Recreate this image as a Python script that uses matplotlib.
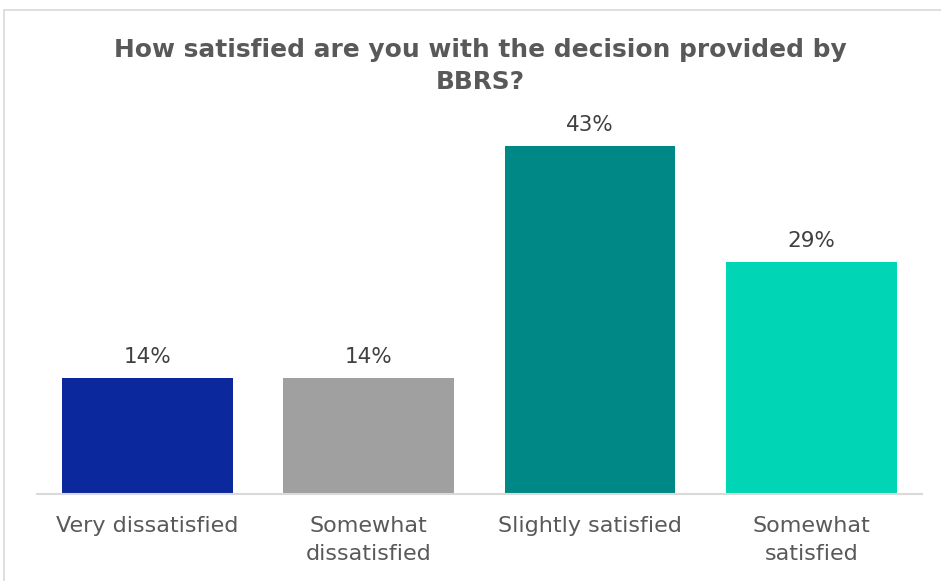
import matplotlib
matplotlib.use("Agg")
import matplotlib.pyplot as plt
from matplotlib.patches import Rectangle

categories = ["Very dissatisfied", "Somewhat\ndissatisfied", "Slightly satisfied", "Somewhat\nsatisfied"]
values = [14.29, 14.29, 42.86, 28.57]
value_labels = ["14%", "14%", "43%", "29%"]
colors = ["#0b289c", "#a0a0a0", "#008887", "#00d6b5"]
title = "How satisfied are you with the decision provided by\nBBRS?"

W, H = 941, 581
fig = plt.figure(figsize=(W / 100, H / 100), dpi=100)
fig.patch.set_facecolor("white")

# outer border
fig.patches.append(Rectangle((4 / W, -0.05), 1.2, (H - 10) / H + 0.05,
                             transform=fig.transFigure, fill=False,
                             edgecolor="#d9d9d9", linewidth=1.2, clip_on=False))

left = 36.8 / W
right = 922 / W
bottom = (H - 494) / H
top_px = 88
ax = fig.add_axes([left, bottom, right - left, (494 - top_px) / H])

x = list(range(len(categories)))
bars = ax.bar(x, values, width=0.772, color=colors)
ax.set_xlim(-0.5, len(categories) - 0.5)
ax.set_ylim(0, 50)

for xi, v, lab in zip(x, values, value_labels):
    ax.text(xi, v + 1.35, lab, ha="center", va="bottom", fontsize=15.5,
            color="#404040", family="DejaVu Sans")

ax.set_xticks(x)
ax.set_xticklabels(categories, fontsize=16, color="#595959", linespacing=1.5)
ax.tick_params(axis="x", length=0, pad=16)
ax.set_yticks([])
for s in ["top", "right", "left"]:
    ax.spines[s].set_visible(False)
ax.spines["bottom"].set_color("#d9d9d9")
ax.spines["bottom"].set_linewidth(1.5)

fig.text(480 / W, 1 - 66 / H, title, ha="center", va="center", fontsize=17.9,
         fontweight="bold", color="#595959", linespacing=1.42)
fig.savefig("out.png", dpi=100)
